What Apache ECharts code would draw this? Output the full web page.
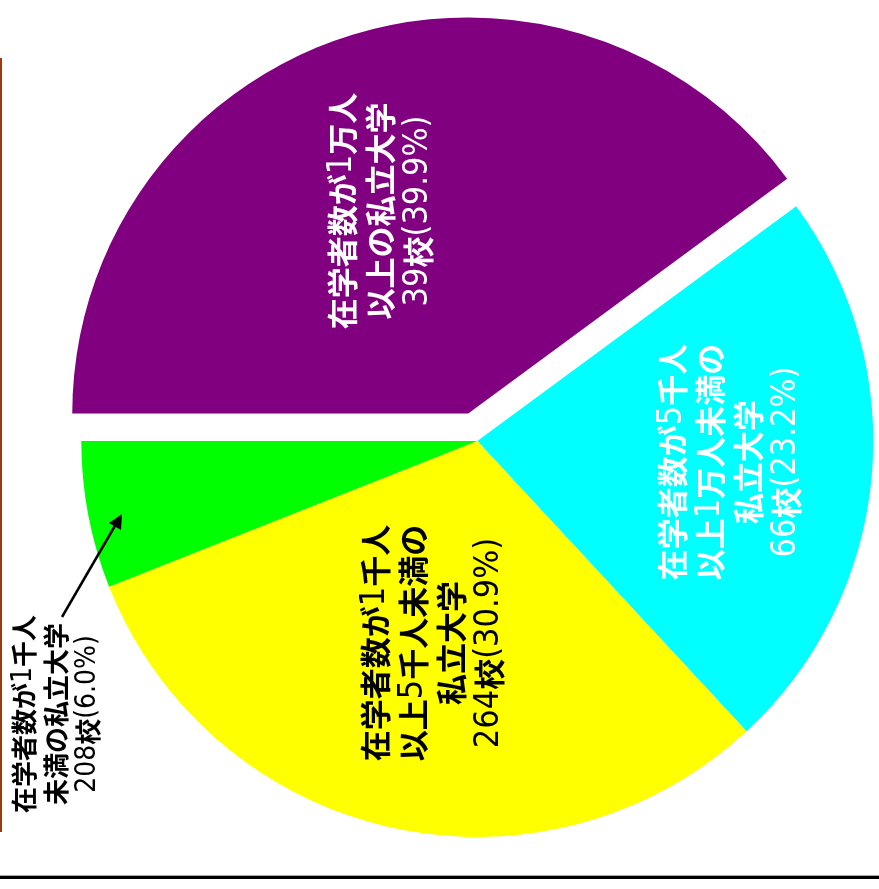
<!DOCTYPE html>
<html>
<head>
<meta charset="utf-8">
<script src="https://cdn.jsdelivr.net/npm/echarts@6/dist/echarts.min.js"></script>
<style>
  html, body { margin: 0; padding: 0; background: #ffffff; }
  #chart { width: 879px; height: 889px; }
</style>
</head>
<body>
<div id="chart"></div>
<script>
// Private universities grouped by enrolment size
const categories = [
  '在学者数が1万人\n以上の私立大学',
  '在学者数が5千人\n以上1万人未満の\n私立大学',
  '在学者数が1千人\n以上5千人未満の\n私立大学',
  '在学者数が1千人\n未満の私立大学'
];
const schoolCounts = [39, 66, 264, 208];
const shares = [39.9, 23.2, 30.9, 6.0];
const sliceColors = ['#800080', '#00ffff', '#ffff00', '#00ff00'];
const labelColors = ['#ffffff', '#ffffff', '#000000', '#000000'];

// label anchor points (px) and sizes for each slice
const labelAnchors = [[380, 211], [729, 462], [432, 643], [56, 714]];
const labelSizes = [31, 31, 31, 26];
const latinSizes = [34, 34, 34, 28];
const labelLineHeights = [38, 38, 38, 32];

const CJK_FONT = "'Noto Sans CJK JP', sans-serif";
const LATIN_FONT = "'Liberation Sans Narrow', 'Arial Narrow', 'DejaVu Sans Condensed', 'Liberation Sans', sans-serif";

// pie geometry; the largest slice is pulled out from the centre
const CX = 477.3, CY = 441, R = 396, START = 180, EXPLODE = 29;
const total = shares.reduce((a, b) => a + b, 0);
const midAngle = (START - shares[0] / total * 180) * Math.PI / 180;
const explodedCenter = [CX + EXPLODE * Math.cos(midAngle), CY - EXPLODE * Math.sin(midAngle)];

// wrap ASCII runs so digits and symbols use the narrow Latin face
const richText = s => s.split('\n')
  .map(line => line.replace(/[\x20-\x7e]+/g, m => '{n|' + m + '}'))
  .join('\n');

const labelText = i => richText(categories[i] + '\n' +
  schoolCounts[i] + '校(' + shares[i].toFixed(1) + '%)');

function buildData(visible) {
  return categories.map((name, i) => {
    const on = visible(i);
    return {
      name: name,
      value: shares[i],
      itemStyle: { color: on ? sliceColors[i] : 'rgba(0,0,0,0)' },
      label: {
        show: on,
        color: labelColors[i],
        fontSize: labelSizes[i],
        lineHeight: labelLineHeights[i],
        rich: {
          n: {
            fontFamily: LATIN_FONT,
            fontWeight: 'normal',
            fontSize: latinSizes[i],
            lineHeight: labelLineHeights[i],
            color: labelColors[i]
          }
        }
      }
    };
  });
}

const baseSeries = {
  type: 'pie',
  radius: R,
  startAngle: START,
  clockwise: true,
  silent: true,
  avoidLabelOverlap: false,
  emphasis: { disabled: true },
  itemStyle: { borderWidth: 0 },
  label: {
    position: 'inside',
    rotate: 90,
    fontFamily: CJK_FONT,
    fontWeight: 'bold',
    align: 'center',
    verticalAlign: 'middle',
    formatter: p => labelText(p.dataIndex)
  },
  labelLine: { show: false },
  labelLayout: p => ({
    x: labelAnchors[p.dataIndex][0],
    y: labelAnchors[p.dataIndex][1],
    rotate: 90,
    align: 'center',
    verticalAlign: 'middle'
  })
};

const chart = echarts.init(document.getElementById('chart'), null, { renderer: 'canvas' });

chart.setOption({
  backgroundColor: '#ffffff',
  animation: false,
  series: [
    Object.assign({}, baseSeries, { center: [CX, CY], data: buildData(i => i !== 0) }),
    Object.assign({}, baseSeries, { center: explodedCenter, data: buildData(i => i === 0) })
  ],
  graphic: [
    // brown rule on the left edge
    { type: 'rect', z: 100, shape: { x: 0, y: 58, width: 2, height: 774 }, style: { fill: '#9b3b0e' }, silent: true },
    // double rule along the bottom
    { type: 'rect', z: 100, shape: { x: 0, y: 875, width: 879, height: 1 }, style: { fill: '#a8a8a8' }, silent: true },
    { type: 'rect', z: 100, shape: { x: 0, y: 876, width: 879, height: 3 }, style: { fill: '#000000' }, silent: true },
    // arrow from the small-university label into its slice
    { type: 'line', z: 100, shape: { x1: 62, y1: 617, x2: 116, y2: 524 }, style: { stroke: '#000000', lineWidth: 2.5 }, silent: true },
    { type: 'polygon', z: 100, shape: { points: [[122, 514], [109, 523], [121, 530]] }, style: { fill: '#000000' }, silent: true }
  ]
});
</script>
</body>
</html>
